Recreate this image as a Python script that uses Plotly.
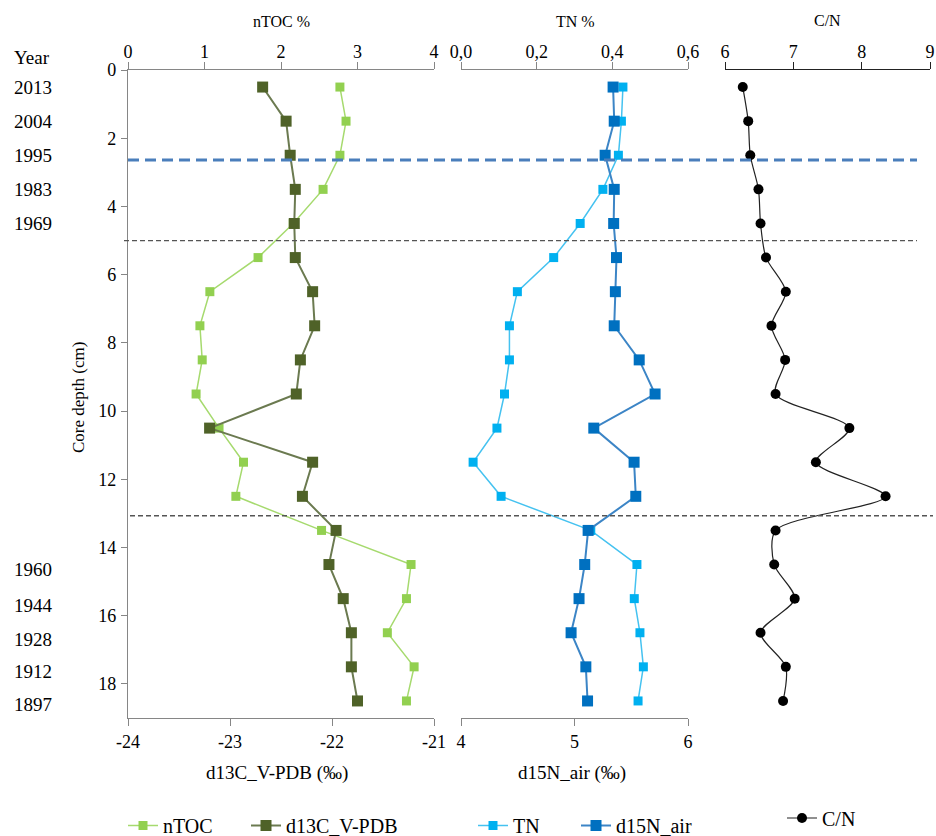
import plotly.graph_objects as go

# ---------------- data ----------------
depth = [0.5, 1.5, 2.5, 3.5, 4.5, 5.5, 6.5, 7.5, 8.5, 9.5, 10.5, 11.5, 12.5,
         13.5, 14.5, 15.5, 16.5, 17.5, 18.5]
ntoc = [2.77, 2.85, 2.77, 2.55, 2.16, 1.70, 1.07, 0.94, 0.97, 0.89, 1.19, 1.51,
        1.41, 2.53, 3.70, 3.64, 3.39, 3.74, 3.64]
d13c = [-22.68, -22.45, -22.41, -22.36, -22.37, -22.36, -22.19, -22.17, -22.31,
        -22.35, -23.20, -22.19, -22.29, -21.96, -22.03, -21.89, -21.81, -21.81,
        -21.75]
tn = [0.428, 0.424, 0.416, 0.375, 0.315, 0.245, 0.149, 0.128, 0.128, 0.115,
      0.095, 0.032, 0.106, 0.343, 0.465, 0.458, 0.473, 0.482, 0.468]
d15n = [5.34, 5.35, 5.27, 5.35, 5.345, 5.37, 5.36, 5.35, 5.57, 5.71, 5.17,
        5.525, 5.54, 5.12, 5.09, 5.04, 4.97, 5.10, 5.115]
cn = [6.26, 6.34, 6.37, 6.49, 6.52, 6.60, 6.89, 6.68, 6.88, 6.74, 7.82, 7.33,
      8.35, 6.74, 6.72, 7.02, 6.52, 6.89, 6.85]

years = ["2013", "2004", "1995", "1983", "1969", "1960", "1944", "1928", "1912", "1897"]
year_depths = [0.5, 1.5, 2.5, 3.5, 4.5, 14.65, 15.7, 16.7, 17.65, 18.6]

blue_boundary = [2.64]
grey_boundaries = [5.0, 13.07]

d13c_ticks = [-24, -23, -22, -21]
d13c_ticktext = ["-24", "-23", "-22", "-21"]
ntoc_ticks = [0, 1, 2, 3, 4]
tn_ticks = [0.0, 0.2, 0.4, 0.6]
tn_ticktext = ["0,0", "0,2", "0,4", "0,6"]
d15n_ticks = [4, 5, 6]
cn_ticks = [6, 7, 8, 9]
depth_ticks = [0, 2, 4, 6, 8, 10, 12, 14, 16, 18]

# ---------------- layout geometry ----------------
W, H = 936, 836
FONT = "Liberation Serif"


def px(v):
    return v / W


def py(v):
    return (H - v) / H


p1 = [px(128), px(434)]
p2 = [px(461), px(688)]
p3 = [px(725), px(930)]
ydom = [py(718), py(70)]

GREY = "#868686"
TICKF = dict(family=FONT, size=18, color="black")

fig = go.Figure()

# panel 1
fig.add_trace(go.Scatter(
    x=ntoc, y=depth, xaxis="x", yaxis="y", mode="lines+markers", name="nTOC",
    line=dict(color="#A6DA6E", width=1.5),
    marker=dict(symbol="square", size=9, color="#92D050"),
    legend="legend"))
fig.add_trace(go.Scatter(
    x=d13c, y=depth, xaxis="x2", yaxis="y", mode="lines+markers", name="d13C_V-PDB",
    line=dict(color="#6B7A50", width=2),
    marker=dict(symbol="square", size=11, color="#4F6228"),
    legend="legend2"))
# panel 2
fig.add_trace(go.Scatter(
    x=tn, y=depth, xaxis="x3", yaxis="y", mode="lines+markers", name="TN",
    line=dict(color="#45C2F0", width=1.5),
    marker=dict(symbol="square", size=9, color="#00B0F0"),
    legend="legend3"))
fig.add_trace(go.Scatter(
    x=d15n, y=depth, xaxis="x4", yaxis="y", mode="lines+markers", name="d15N_air",
    line=dict(color="#3C85C6", width=2),
    marker=dict(symbol="square", size=11, color="#0070C0"),
    legend="legend4"))
# panel 3
fig.add_trace(go.Scatter(
    x=cn, y=depth, xaxis="x5", yaxis="y", mode="lines+markers", name="C/N",
    line=dict(color="#222222", width=1.2, shape="spline", smoothing=0.8),
    marker=dict(symbol="circle", size=10, color="black"),
    legend="legend5"))

axis_common = dict(showgrid=False, zeroline=False, showline=True, ticks="outside",
                   ticklen=7, tickfont=TICKF, linewidth=1.3, automargin=False)


def leg(xp, yp=None):
    d = dict(orientation="h", x=px(xp), xanchor="left",
             font=dict(family=FONT, size=20), bgcolor="rgba(0,0,0,0)",
             borderwidth=0)
    if yp is None:
        d.update(y=-9 / H, yanchor="bottom")
    else:
        d.update(y=py(yp), yanchor="middle")
    return d


fig.update_layout(
    width=W, height=H, margin=dict(l=0, r=0, t=0, b=0, autoexpand=False),
    paper_bgcolor="white", plot_bgcolor="rgba(0,0,0,0)",
    font=dict(family=FONT, color="black"),
    xaxis=dict(domain=p1, range=[0, 4], side="top", anchor="y", ticklabelstandoff=-3,
               tickvals=ntoc_ticks, linecolor=GREY, tickcolor=GREY, **axis_common),
    xaxis2=dict(overlaying="x", range=[-24, -21], side="bottom", anchor="y",
                tickvals=d13c_ticks, ticktext=d13c_ticktext,
                linecolor=GREY, tickcolor=GREY, **axis_common),
    xaxis3=dict(domain=p2, range=[0, 0.6], side="top", anchor="y", ticklabelstandoff=-3,
                tickvals=tn_ticks, ticktext=tn_ticktext,
                linecolor=GREY, tickcolor=GREY, **axis_common),
    xaxis4=dict(overlaying="x3", range=[4, 6], side="bottom", anchor="y",
                tickvals=d15n_ticks, linecolor=GREY, tickcolor=GREY, **axis_common),
    xaxis5=dict(domain=p3, range=[6, 9], side="top", anchor="y", ticklabelstandoff=-3,
                tickvals=cn_ticks, linecolor="#222222", tickcolor="#222222", **axis_common),
    yaxis=dict(domain=ydom, range=[19, 0], anchor="x", tickvals=depth_ticks,
               linecolor=GREY, tickcolor=GREY, showgrid=False, zeroline=False,
               showline=True, ticks="outside", ticklen=6, tickfont=TICKF, linewidth=1.3,
               automargin=False, ticklabelstandoff=1),
    showlegend=True,
    legend=leg(123),
    legend2=leg(246),
    legend3=leg(473),
    legend4=leg(576),
    legend5=leg(782, 818),
)

# boundary dashed lines
shapes = []
for b in blue_boundary:
    shapes.append(dict(type="line", xref="paper", yref="y", x0=px(128), x1=px(917),
                       y0=b, y1=b, line=dict(color="#4A7EBB", width=3, dash="11px,6px"),
                       layer="above"))
grey_spans = [(px(124), px(917)), (px(130), px(933))]
for b, (a0, a1) in zip(grey_boundaries, grey_spans):
    shapes.append(dict(type="line", xref="paper", yref="y", x0=a0, x1=a1,
                       y0=b, y1=b, line=dict(color="#555555", width=1.3, dash="5px,3px"),
                       layer="above"))
fig.update_layout(shapes=shapes)

# annotations: titles and year labels
ann = []


def note(text, x, y, size, **kw):
    d = dict(text=text, x=px(x), y=py(y), xref="paper", yref="paper",
             xanchor="center", yanchor="middle", showarrow=False,
             font=dict(family=FONT, size=size, color="black"))
    d.update(kw)
    return d


ann.append(note("nTOC %", 281, 22, 16))
ann.append(note("TN %", 575, 22, 16))
ann.append(note("C/N", 827, 20, 16))
ann.append(note("d13C_V-PDB (‰)", 277, 773, 19))
ann.append(note("d15N_air (‰)", 572, 773, 19))
ann.append(note("Core depth (cm)", 78, 398, 17, textangle=-90))
ann.append(note("Year", 12, 58, 19, xanchor="left"))
for yr, d in zip(years, year_depths):
    ann.append(dict(text=yr, x=px(12), y=d, xref="paper", yref="y", xanchor="left",
                    yanchor="middle", showarrow=False,
                    font=dict(family=FONT, size=19, color="black")))
fig.update_layout(annotations=ann)

fig.write_html("out.html")
